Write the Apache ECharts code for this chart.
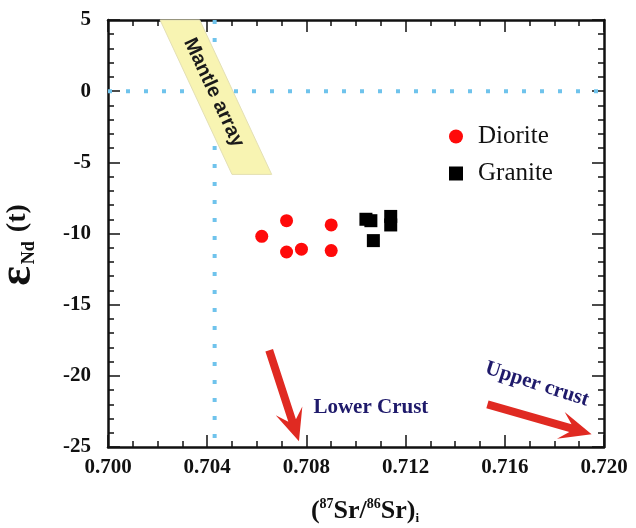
<!DOCTYPE html>
<html><head><meta charset="utf-8">
<script src="https://cdn.jsdelivr.net/npm/echarts@6/dist/echarts.min.js"></script>
<style>html,body{margin:0;padding:0;background:#fff}#chart{width:636px;height:528px}</style>
</head><body><div id="chart"></div>
<script>
// Sample compositions: initial 87Sr/86Sr vs eNd(t)
const dioriteSr = [0.7062, 0.7072, 0.7072, 0.7078, 0.7090, 0.7090];
const dioriteNd = [-10.2, -9.1, -11.3, -11.1, -9.4, -11.2];
const graniteSr = [0.7104, 0.7106, 0.7114, 0.7114, 0.7107];
const graniteNd = [-9.0, -9.1, -8.8, -9.4, -10.5];

// Mantle array band (corners, clockwise)
const mantleSr = [0.7021, 0.7037, 0.7066, 0.7050];
const mantleNd = [5, 5, -5.85, -5.85];
const mantleLabel = 'Mantle array';

// Bulk-earth reference lines
const bulkEarthNd = 0;
const bulkEarthSr = 0.7043;

// Crustal trend arrows: start and tip
const arrowSr0 = [0.7065, 0.7153];
const arrowNd0 = [-18.2, -22.0];
const arrowSr1 = [0.7077, 0.7195];
const arrowNd1 = [-24.6, -24.1];

// Crust labels
const crustLabels = ['Lower Crust', 'Upper crust'];
const crustLabelSr = [0.7106, 0.7173];
const crustLabelNd = [-22.25, -20.6];

const xMin = 0.700, xMax = 0.720, xStep = 0.004;
const yMin = -25, yMax = 5, yStep = 5;

const serif = '"Liberation Serif", "Times New Roman", serif';
const chart = echarts.init(document.getElementById('chart'));

function zip(a, b) { return a.map((v, i) => [v, b[i]]); }

const axisCommon = {
  axisLine: { show: true, onZero: false, lineStyle: { color: '#111', width: 2.5 } },
  axisTick: { show: true, inside: true, length: 12, lineStyle: { color: '#111', width: 1.5 } },
  minorTick: { show: true, length: 6, lineStyle: { color: '#111', width: 1.5 } },
  splitLine: { show: false }
};

const option = {
  animation: false,
  backgroundColor: '#fff',
  grid: { left: 108, right: 32, top: 20, bottom: 81, containLabel: false, outerBoundsMode: 'none' },
  legend: {
    orient: 'vertical', left: 444, top: 119, itemGap: 12,
    itemWidth: 14, itemHeight: 14,
    textStyle: { fontFamily: serif, fontSize: 25, color: '#111', padding: [0, 0, 0, 10] },
    data: [{ name: 'Diorite', icon: 'circle' }, { name: 'Granite', icon: 'rect' }]
  },
  xAxis: [
    Object.assign({}, axisCommon, {
      type: 'value', min: xMin, max: xMax, interval: xStep, position: 'bottom',
      minorTick: Object.assign({}, axisCommon.minorTick, { splitNumber: 4 }),
      axisLabel: { fontFamily: serif, fontWeight: 'bold', fontSize: 21, color: '#111', margin: 10,
        formatter: v => v.toFixed(3) },
      name: '({s|87}Sr/{s|86}Sr){b|i}', nameLocation: 'middle', nameGap: 50,
      nameTextStyle: { fontFamily: serif, fontWeight: 'bold', fontSize: 26, color: '#111',
        padding: [0, 0, 0, 18],
        rich: {
          s: { fontFamily: serif, fontWeight: 'bold', fontSize: 14, color: '#111', verticalAlign: 'top', lineHeight: 28 },
          b: { fontFamily: serif, fontWeight: 'bold', fontSize: 13, color: '#111', verticalAlign: 'bottom', lineHeight: 28 }
        } }
    }),
    Object.assign({}, axisCommon, {
      type: 'value', min: xMin, max: xMax, interval: xStep, position: 'top',
      minorTick: Object.assign({}, axisCommon.minorTick, { splitNumber: 4 }),
      axisLabel: { show: false }
    })
  ],
  yAxis: [
    Object.assign({}, axisCommon, {
      type: 'value', min: yMin, max: yMax, interval: yStep, position: 'left',
      minorTick: Object.assign({}, axisCommon.minorTick, { splitNumber: 5 }),
      axisLabel: { fontFamily: serif, fontWeight: 'bold', fontSize: 21, color: '#111', margin: 17 },
      name: '{e|ε}{n|Nd}{p|(t)}', nameLocation: 'middle', nameRotate: 90, nameGap: 70,
      nameTextStyle: {
        padding: [0, 23, 0, 0],
        rich: {
          e: { fontFamily: serif, fontWeight: 'bold', fontSize: 46, color: '#111', verticalAlign: 'middle', lineHeight: 40 },
          n: { fontFamily: serif, fontWeight: 'bold', fontSize: 18, color: '#111', verticalAlign: 'bottom', lineHeight: 40, padding: [0, 3, 0, 2] },
          p: { fontFamily: serif, fontWeight: 'bold', fontSize: 28, color: '#111', verticalAlign: 'middle', lineHeight: 40, padding: [0, 0, 0, 6] }
        } }
    }),
    Object.assign({}, axisCommon, {
      type: 'value', min: yMin, max: yMax, interval: yStep, position: 'right',
      minorTick: Object.assign({}, axisCommon.minorTick, { splitNumber: 5 }),
      axisLabel: { show: false }
    })
  ],
  series: [
    {
      type: 'line', name: 'bulkEarthNd', silent: true, symbol: 'none', z: 1,
      lineStyle: { color: '#6fc3ec', width: 4, type: [4, 14], cap: 'butt' },
      data: [[xMin, bulkEarthNd], [xMax, bulkEarthNd]]
    },
    {
      type: 'line', name: 'bulkEarthSr', silent: true, symbol: 'none', z: 1,
      lineStyle: { color: '#6fc3ec', width: 4, type: [4, 14], cap: 'butt' },
      data: [[bulkEarthSr, yMax], [bulkEarthSr, yMin]]
    },
    {
      type: 'custom', name: 'mantle', silent: true, z: 3,
      data: [[0]],
      renderItem: function (params, api) {
        const pts = mantleSr.map((x, i) => api.coord([x, mantleNd[i]]));
        const topMid = [(pts[0][0] + pts[1][0]) / 2, (pts[0][1] + pts[1][1]) / 2];
        const botMid = [(pts[2][0] + pts[3][0]) / 2, (pts[2][1] + pts[3][1]) / 2];
        const ang = Math.atan2(botMid[1] - topMid[1], botMid[0] - topMid[0]);
        const cx = topMid[0] + (botMid[0] - topMid[0]) * 0.47;
        const cy = topMid[1] + (botMid[1] - topMid[1]) * 0.47;
        return {
          type: 'group',
          children: [
            { type: 'polygon', shape: { points: pts },
              style: { fill: '#f8f4b2', stroke: '#e4e0b4', lineWidth: 1 } },
            { type: 'text', x: cx, y: cy, rotation: -ang,
              style: { text: mantleLabel, fontFamily: '"Liberation Sans", Arial, sans-serif', fontWeight: 'bold',
                fontSize: 20, fill: '#1a1a1a', align: 'center', verticalAlign: 'middle' } }
          ]
        };
      }
    },
    {
      type: 'custom', name: 'arrows', silent: true, z: 4, clip: false,
      data: arrowSr0.map((v, i) => [v, arrowNd0[i], arrowSr1[i], arrowNd1[i]]),
      renderItem: function (params, api) {
        const s = api.coord([api.value(0), api.value(1)]);
        const t = api.coord([api.value(2), api.value(3)]);
        const dx = t[0] - s[0], dy = t[1] - s[1];
        const len = Math.hypot(dx, dy);
        const ux = dx / len, uy = dy / len, nx = -uy, ny = ux;
        const w = 4, L = 32, H = 14, notch = 10;
        const bx = t[0] - ux * (L - notch), by = t[1] - uy * (L - notch);
        const hx = t[0] - ux * L, hy = t[1] - uy * L;
        const pts = [
          [s[0] + nx * w, s[1] + ny * w],
          [bx + nx * w, by + ny * w],
          [hx + nx * H, hy + ny * H],
          [t[0], t[1]],
          [hx - nx * H, hy - ny * H],
          [bx - nx * w, by - ny * w],
          [s[0] - nx * w, s[1] - ny * w]
        ];
        return { type: 'polygon', shape: { points: pts }, style: { fill: '#e02a22' } };
      }
    },
    {
      type: 'custom', name: 'crustLabels', silent: true, z: 4, clip: false,
      data: crustLabelSr.map((v, i) => [v, crustLabelNd[i], i]),
      renderItem: function (params, api) {
        const p = api.coord([api.value(0), api.value(1)]);
        const i = api.value(2);
        return { type: 'text', x: p[0], y: p[1], rotation: i === 1 ? -0.31 : 0,
          style: { text: crustLabels[i], fontFamily: serif, fontWeight: 'bold', fontSize: 21,
            fill: '#1f1a6b', align: 'center', verticalAlign: 'middle' } };
      }
    },
    {
      type: 'scatter', name: 'Diorite', symbol: 'circle', symbolSize: 13, z: 5,
      itemStyle: { color: '#ff0a0a', opacity: 1 },
      data: zip(dioriteSr, dioriteNd)
    },
    {
      type: 'scatter', name: 'Granite', symbol: 'rect', symbolSize: 13, z: 5,
      itemStyle: { color: '#000', opacity: 1 },
      data: zip(graniteSr, graniteNd)
    }
  ]
};
chart.setOption(option);
</script>
</body></html>
